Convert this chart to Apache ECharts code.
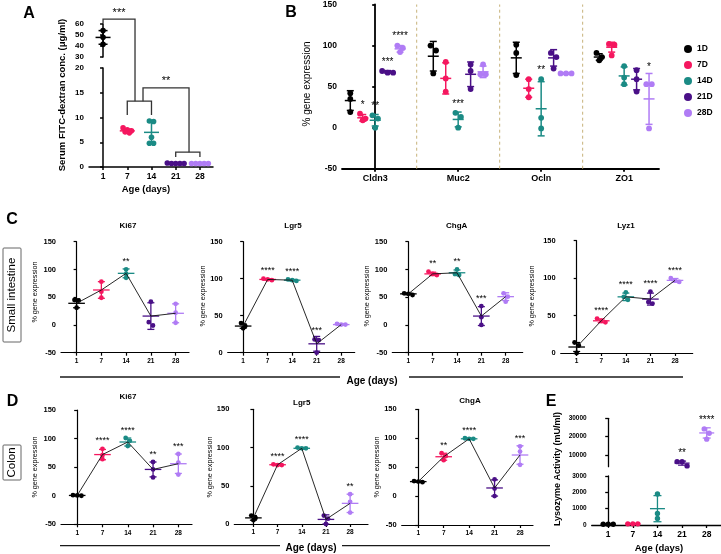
<!DOCTYPE html>
<html><head><meta charset="utf-8">
<script src="https://cdn.jsdelivr.net/npm/echarts@6/dist/echarts.min.js"></script>
<style>html,body{margin:0;padding:0;background:#fff}#c{width:721px;height:554px}</style>
</head><body><div id="c"></div>
<script>
// ================= DATA =================
const dayLabels = ['1', '7', '14', '21', '28'];
const legendNames = ['1D', '7D', '14D', '21D', '28D'];
const dayColors = ['#000000', '#f5175f', '#1b8b85', '#4a1087', '#b07cf5'];

// Panel A: serum FITC-dextran (ug/ml)
const aPts = [[54, 48, 41.5], [7.9, 7.5, 7.3, 7.1, 6.9], [9.3, 9.2, 6.0, 4.8, 4.8], [0.8, 0.7, 0.7, 0.7, 0.7], [0.7, 0.7, 0.7, 0.7, 0.7]];
const aMean = [47.8, 7.3, 7.0, 0.7, 0.7];
const aSD = [6.2, 0.35, 2.2, 0.1, 0.1];
// significance brackets: [part(0 upper,1 lower), x (category index), y value]
const aBrackets = [
  { label: '***', path: [[0, 0, 60.5], [0, 0, 64.5], [0, 1.32, 64.5], [1, 1.32, 13.3]] },
  { label: '', path: [[1, 1, 10.5], [1, 1, 13.3], [1, 2, 13.3], [1, 2, 10.5]] },
  { label: '**', path: [[1, 1.65, 13.3], [1, 1.65, 16], [1, 3.55, 16], [1, 3.55, 3.0]] },
  { label: '', path: [[1, 3, 2.0], [1, 3, 3.0], [1, 4, 3.0], [1, 4, 2.0]] }
];

// Panel B: % gene expression, per day across genes
const bGenes = ['Cldn3', 'Muc2', 'Ocln', 'ZO1'];
const bPts1D = [[42, 35, 19], [100, 94, 66], [101, 91, 64], [91, 86, 82]];
const bPts7D = [[17, 11, 9], [80, 60, 44], [59, 47, 37], [102, 101, 88]];
const bPts14D = [[15, 11, 0], [18, 13, 0], [59, 12, -1], [75, 61, 53]];
const bPts21D = [[69, 67, 67], [77, 69, 47], [91, 86, 72], [70, 59, 44]];
const bPts28D = [[100, 92, 97], [77, 65, 65], [66, 66, 66], [53, 53, -1]];
const bMean1D = [33, 87, 85, 86], bSD1D = [12, 18, 19, 4];
const bMean7D = [12, 60, 48, 98], bSD7D = [4, 19, 11, 6];
const bMean14D = [9, 10, 23, 63], bSD14D = [7, 9, 33, 11];
const bMean21D = [68, 65, 85, 59], bSD21D = [1.5, 15, 10, 13];
const bMean28D = [96, 68, 66, 35], bSD28D = [4, 7, 1, 31];
const bStars1D = ['', '', '', ''];
const bStars7D = ['*', '', '', ''];
const bStars14D = ['**', '***', '**', ''];
const bStars21D = ['***', '', '', ''];
const bStars28D = ['****', '', '', '*'];

// Panel C: small intestine
const cKi67Pts = [[45, 44, 31], [78, 60, 49], [100, 92, 85], [42, 5, -1], [38, 22, 4]];
const cKi67Mean = [39, 63, 93, 16, 21], cKi67SD = [8, 15, 8, 24, 17];
const cKi67Stars = ['', '', '**', '', ''];
const cLgr5Pts = [[40, 36, 33], [100, 99, 98], [99, 98, 97], [18, 17, 0], [39, 38, 38]];
const cLgr5Mean = [36, 99, 98, 12, 38], cLgr5SD = [3, 1, 1, 10, 1];
const cLgr5Stars = ['', '****', '****', '***', ''];
const cChgAPts = [[57, 56, 54], [96, 92, 90], [100, 92, 90], [34, 14, 0], [57, 51, 42]];
const cChgAMean = [56, 92, 94, 16, 51], cChgASD = [1.5, 3, 5, 17, 7];
const cChgAStars = ['', '**', '**', '***', ''];
const cLyz1Pts = [[14, 10, 0], [46, 43, 41], [81, 75, 71], [82, 68, 66], [100, 97, 95]];
const cLyz1Mean = [8, 43, 75, 72, 97], cLyz1SD = [6, 2.5, 5, 8, 2.5];
const cLyz1Stars = ['', '****', '****', '****', '****'];

// Panel D: colon
const dKi67Pts = [[1, 0.5, 0], [82, 71, 64], [101, 96, 87], [59, 46, 32], [73, 58, 37]];
const dKi67Mean = [0.5, 72, 94, 46, 56], dKi67SD = [0.5, 9, 7, 13, 17];
const dKi67Stars = ['', '****', '****', '**', '***'];
const dLgr5Pts = [[11, 8, 5], [78, 77, 77], [100, 99, 99], [11, 7, 0], [39, 29, 15]];
const dLgr5Mean = [8, 77.5, 99, 6, 27], dLgr5SD = [3, 1, 1, 6, 12];
const dLgr5Stars = ['', '****', '****', '', '**'];
const dChgAPts = [[26, 25, 24], [74, 69, 62], [100, 99, 99], [29, 13, 0], [86, 77, 54]];
const dChgAMean = [25, 68, 99, 14, 71], dChgASD = [1, 6, 1, 14, 16];
const dChgAStars = ['', '**', '****', '', '***'];

// Panel E: lysozyme activity (mU/ml)
const ePts = [[50, 50, 50], [70, 70, 70], [1900, 700, 400], [6300, 6300, 4000], [24200, 21800, 18600]];
const eMean = [50, 70, 1000, 5500, 22000];
const eSD = [0, 0, 800, 1100, 2800];
const eStars = ['', '', '', '**', '****'];
const eUpperTicks = [10000, 20000, 30000];

// ================= CHART =================
const FONT = '"Liberation Sans", Arial, Helvetica, sans-serif';
const chart = echarts.init(document.getElementById('c'), null, { renderer: 'canvas', width: 721, height: 554 });

function swarm(ys, d) {
  const idx = ys.map((y, i) => i).sort((a, b) => ys[a] - ys[b]);
  const offs = new Array(ys.length).fill(0);
  if (!idx.length) return offs;
  let row = [idx[0]];
  const flush = () => { const n = row.length; row.forEach((i, k) => { offs[i] = (k - (n - 1) / 2) * d; }); };
  for (let k = 1; k < idx.length; k++) {
    if (ys[idx[k]] - ys[row[0]] < d * 0.9) row.push(idx[k]); else { flush(); row = [idx[k]]; }
  }
  flush();
  return offs;
}

function groupSeries(name, xi, yi, groups, st, color) {
  return {
    type: 'custom', name, xAxisIndex: xi, yAxisIndex: yi, clip: false, z: 5,
    itemStyle: { color: color || '#000' },
    data: groups.map(g => [g.x, g.mean, g.sd]),
    encode: { x: 0, y: 1 },
    renderItem: (params, api) => {
      const g = groups[params.dataIndex];
      const c = api.coord([g.x, g.mean]);
      const t = api.coord([g.x, g.mean + g.sd]);
      const b = api.coord([g.x, g.mean - g.sd]);
      const ys = g.pts.map(v => api.coord([g.x, v])[1]);
      const offs = swarm(ys, st.spread);
      const ch = [];
      ys.forEach((y, i) => ch.push({ type: 'circle', shape: { cx: c[0] + offs[i], cy: y, r: st.r }, style: { fill: g.color } }));
      const ls = { stroke: g.color, lineWidth: st.lw };
      ch.push({ type: 'line', shape: { x1: c[0], y1: t[1], x2: c[0], y2: b[1] }, style: ls });
      ch.push({ type: 'line', shape: { x1: c[0] - st.cap, y1: t[1], x2: c[0] + st.cap, y2: t[1] }, style: ls });
      ch.push({ type: 'line', shape: { x1: c[0] - st.cap, y1: b[1], x2: c[0] + st.cap, y2: b[1] }, style: ls });
      ch.push({ type: 'line', shape: { x1: c[0] - st.meanW, y1: c[1], x2: c[0] + st.meanW, y2: c[1] }, style: ls });
      if (g.star) {
        const top = Math.min(t[1], ...ys.map(y => y - st.r));
        ch.push({ type: 'text', x: c[0], y: top - st.starGap, style: { text: g.star, fontSize: st.starSize, fontFamily: FONT, fill: '#000', align: 'center', verticalAlign: 'bottom' } });
      }
      return { type: 'group', children: ch };
    }
  };
}

const plainNum = v => String(v);
function yAx(grid, min, max, interval, fs, lw, extra) {
  return Object.assign({
    type: 'value', gridIndex: grid, min, max, interval,
    axisLine: { show: true, lineStyle: { color: '#000', width: lw } },
    axisTick: { show: true, length: 3, lineStyle: { color: '#000', width: lw } },
    axisLabel: { fontSize: fs, fontWeight: 'bold', color: '#000', fontFamily: FONT, margin: 5, formatter: plainNum },
    splitLine: { show: false }
  }, extra || {});
}
function xAx(grid, min, max, labels, fs, lw, show) {
  const vals = labels.map((_, i) => i);
  return {
    type: 'value', gridIndex: grid, min, max,
    axisLine: { show, onZero: false, lineStyle: { color: '#000', width: lw } },
    axisTick: { show, length: 3, customValues: vals, lineStyle: { color: '#000', width: lw } },
    axisLabel: { show, customValues: vals, formatter: v => labels[Math.round(v)], fontSize: fs, fontWeight: 'bold', color: '#000', fontFamily: FONT, margin: 5 },
    splitLine: { show: false }
  };
}

const grids = [], xAxes = [], yAxes = [], series = [];
function addGrid(l, t, w, h) { grids.push({ left: l, top: t, width: w, height: h, containLabel: false }); return grids.length - 1; }

// ---- Panel A ----
const stA = { r: 2.8, spread: 4.2, lw: 1.5, cap: 4.5, meanW: 7.5, starSize: 11, starGap: 1 };
const gA0 = addGrid(89, 24, 124, 33);
xAxes.push(xAx(gA0, -0.58, 4.54, dayLabels, 8, 1.5, false));
yAxes.push(yAx(gA0, 30, 60, 10, 8, 1.5));
const gA1 = addGrid(89, 68, 124, 99);
xAxes.push(xAx(gA1, -0.58, 4.54, dayLabels, 8.5, 1.5, true));
yAxes.push(yAx(gA1, 0, 20, 5, 8, 1.5));
series.push(groupSeries('A-upper', gA0, gA0, [0].map(i => ({ x: i, pts: aPts[i], mean: aMean[i], sd: aSD[i], color: dayColors[i] })), stA));
series.push(groupSeries('A-lower', gA1, gA1, [1, 2, 3, 4].map(i => ({ x: i, pts: aPts[i], mean: aMean[i], sd: aSD[i], color: dayColors[i] })), stA));

// ---- Panel B ----
const gB = addGrid(342, 4, 317, 164.7);
xAxes.push(xAx(gB, -0.4, 3.42, bGenes, 9, 1.8, true));
yAxes.push(yAx(gB, -50, 150, 50, 8.5, 1.8));
const stB = { r: 2.9, spread: 5.5, lw: 1.5, cap: 3.5, meanW: 5.5, starSize: 10, starGap: 1 };
const bPts = [bPts1D, bPts7D, bPts14D, bPts21D, bPts28D];
const bMean = [bMean1D, bMean7D, bMean14D, bMean21D, bMean28D];
const bSD = [bSD1D, bSD7D, bSD14D, bSD21D, bSD28D];
const bStars = [bStars1D, bStars7D, bStars14D, bStars21D, bStars28D];
[0.5, 1.5, 2.5].forEach((sx, k) => series.push({
  type: 'line', name: 'sep' + k, xAxisIndex: gB, yAxisIndex: gB, symbol: 'none', silent: true, z: 1,
  data: [[sx, -50], [sx, 150]], lineStyle: { color: '#c7b27a', width: 1, type: [3, 3] }
}));
for (let d = 0; d < 5; d++) {
  series.push(groupSeries(legendNames[d], gB, gB, bGenes.map((_, g) => ({
    x: g + (d - 2) * 0.15, pts: bPts[d][g], mean: bMean[d][g], sd: bSD[d][g], color: dayColors[d], star: bStars[d][g]
  })), stB, dayColors[d]));
}

// ---- Panels C & D ----
const stC = { r: 2.4, spread: 4.2, lw: 1.3, cap: 3.5, meanW: 8.3, starSize: 9, starGap: 1 };
const smallPanels = [
  { g: [61, 241.7, 128, 111], x: [-0.63, 4.54], y: [-50, 150], pts: cKi67Pts, mean: cKi67Mean, sd: cKi67SD, stars: cKi67Stars },
  { g: [227.7, 241.7, 127, 111], x: [-0.63, 4.55], y: [0, 150], pts: cLgr5Pts, mean: cLgr5Mean, sd: cLgr5SD, stars: cLgr5Stars },
  { g: [392.3, 241.7, 130.4, 111], x: [-0.66, 4.7], y: [-50, 150], pts: cChgAPts, mean: cChgAMean, sd: cChgASD, stars: cChgAStars },
  { g: [560.7, 240.7, 132, 112.3], x: [-0.65, 4.72], y: [0, 150], pts: cLyz1Pts, mean: cLyz1Mean, sd: cLyz1SD, stars: cLyz1Stars },
  { g: [61, 410, 131, 114.3], x: [-0.64, 4.54], y: [-50, 150], pts: dKi67Pts, mean: dKi67Mean, sd: dKi67SD, stars: dKi67Stars },
  { g: [234.3, 409.3, 133.7, 114.7], x: [-0.79, 4.74], y: [0, 150], pts: dLgr5Pts, mean: dLgr5Mean, sd: dLgr5SD, stars: dLgr5Stars },
  { g: [401.7, 409.3, 131.3, 115.7], x: [-0.65, 4.51], y: [-50, 150], pts: dChgAPts, mean: dChgAMean, sd: dChgASD, stars: dChgAStars }
];
smallPanels.forEach((p, k) => {
  const gi = addGrid(p.g[0], p.g[1], p.g[2], p.g[3]);
  xAxes.push(xAx(gi, p.x[0], p.x[1], dayLabels, 6.5, 1.2, true));
  yAxes.push(yAx(gi, p.y[0], p.y[1], 50, 7.5, 1.2));
  series.push({
    type: 'line', name: 'meanline' + k, xAxisIndex: gi, yAxisIndex: gi, symbol: 'none', silent: true, z: 6,
    data: p.mean.map((m, i) => [i, m]), lineStyle: { color: '#111', width: 0.9 }
  });
  series.push(groupSeries('panel' + k, gi, gi, p.pts.map((pts, i) => ({
    x: i, pts, mean: p.mean[i], sd: p.sd[i], color: dayColors[i], star: p.stars[i]
  })), stC));
});

// ---- Panel E ----
const stE = { r: 2.7, spread: 5, lw: 1.3, cap: 4, meanW: 7.5, starSize: 10, starGap: 1 };
const gE0 = addGrid(591.7, 418.3, 129.3, 48.4);
xAxes.push(xAx(gE0, -0.67, 4.58, dayLabels, 8, 1.3, false));
yAxes.push(yAx(gE0, 3550, 30000, null, 6.5, 1.3, {
  axisTick: { show: true, length: 3, customValues: eUpperTicks, lineStyle: { color: '#000', width: 1.3 } },
  axisLabel: { customValues: eUpperTicks, fontSize: 6.5, fontWeight: 'bold', color: '#000', fontFamily: FONT, margin: 5, formatter: plainNum }
}));
const gE1 = addGrid(591.7, 476, 129.3, 49);
xAxes.push(xAx(gE1, -0.67, 4.58, dayLabels, 8.5, 1.3, true));
yAxes.push(yAx(gE1, 0, 3000, 1000, 6.5, 1.3));
series.push(groupSeries('E-upper', gE0, gE0, [3, 4].map(i => ({ x: i, pts: ePts[i], mean: eMean[i], sd: eSD[i], color: dayColors[i], star: eStars[i] })), stE));
series.push(groupSeries('E-lower', gE1, gE1, [0, 1, 2].map(i => ({ x: i, pts: ePts[i], mean: eMean[i], sd: eSD[i], color: dayColors[i], star: eStars[i] })), stE));

chart.setOption({
  animation: false,
  backgroundColor: '#fff',
  grid: grids, xAxis: xAxes, yAxis: yAxes, series,
  legend: {
    data: legendNames, orient: 'vertical', left: 679, top: 39, icon: 'circle',
    itemWidth: 8, itemHeight: 8, itemGap: 6, selectedMode: false,
    textStyle: { fontSize: 8.5, fontWeight: 'bold', color: '#000', fontFamily: FONT, lineHeight: 10 }
  }
});

// ---- Annotations (text, boxes, lines, brackets) ----
function txt(t, x, y, size, weight, rot) {
  return { type: 'text', x, y, rotation: rot || 0, z: 10, style: { text: t, fontSize: size, fontWeight: weight || 'normal', fontFamily: FONT, fill: '#000', align: 'center', verticalAlign: 'middle' } };
}
function ln(x1, y1, x2, y2, w) { return { type: 'line', z: 10, shape: { x1, y1, x2, y2 }, style: { stroke: '#1a1a1a', lineWidth: w || 1.3 } }; }
const R = Math.PI / 2;
const els = [
  txt('A', 29, 14, 16, 'bold'), txt('B', 291, 13, 16, 'bold'), txt('C', 12, 220, 16, 'bold'),
  txt('D', 12.5, 402, 16, 'bold'), txt('E', 551, 402, 16, 'bold'),
  txt('Serum FITC-dextran conc. (\u03bcg/ml)', 62, 95, 9.5, 'bold', R),
  txt('Age (days)', 146, 189, 9.5, 'bold'),
  txt('% gene expression', 307, 84, 10, 'normal', R),
  txt('Ki67', 128, 226, 8, 'bold'), txt('Lgr5', 293, 226, 8, 'bold'), txt('ChgA', 456.7, 226, 8, 'bold'), txt('Lyz1', 626, 226, 8, 'bold'),
  txt('Ki67', 128, 396.7, 8, 'bold'), txt('Lgr5', 301.7, 402.3, 8, 'bold'), txt('ChgA', 470, 400.7, 8, 'bold'),
  txt('% gene expression', 35, 292, 7.2, 'normal', R), txt('% gene expression', 203.3, 296, 7.2, 'normal', R),
  txt('% gene expression', 367.3, 296, 7.2, 'normal', R), txt('% gene expression', 531.7, 296, 7.2, 'normal', R),
  txt('% gene expression', 35, 467, 7.2, 'normal', R), txt('% gene expression', 210, 467, 7.2, 'normal', R),
  txt('% gene expression', 377.3, 467, 7.2, 'normal', R),
  { type: 'rect', z: 10, shape: { x: 3, y: 248, width: 18, height: 94, r: 1 }, style: { fill: 'none', stroke: '#666', lineWidth: 1 } },
  txt('Small intestine', 12, 295, 11.5, 'normal', R),
  { type: 'rect', z: 10, shape: { x: 3, y: 445, width: 18, height: 35, r: 1 }, style: { fill: 'none', stroke: '#666', lineWidth: 1 } },
  txt('Colon', 12, 462.5, 11.5, 'normal', R),
  ln(60, 377, 340, 377), ln(409, 377, 683, 377), txt('Age (days)', 372, 381, 10, 'bold'),
  ln(60, 545.7, 280, 545.7), ln(342, 545.7, 550, 545.7), txt('Age (days)', 311, 548, 10, 'bold'),
  txt('Lysozyme Activity (mU/ml)', 557.3, 469, 9, 'bold', R),
  txt('Age (days)', 659, 548, 9.5, 'bold')
];
const aParts = [gA0, gA1];
aBrackets.forEach(br => {
  const pts = br.path.map(p => chart.convertToPixel({ xAxisIndex: aParts[p[0]], yAxisIndex: aParts[p[0]] }, [p[1], p[2]]));
  els.push({ type: 'polyline', z: 10, shape: { points: pts }, style: { stroke: '#333', lineWidth: 1.3, fill: null } });
  if (br.label) {
    const midX = (pts[1][0] + pts[2][0]) / 2;
    els.push({ type: 'text', z: 10, x: midX, y: pts[1][1] - 1, style: { text: br.label, fontSize: 11, fontFamily: FONT, fill: '#000', align: 'center', verticalAlign: 'bottom' } });
  }
});
chart.setOption({ graphic: { elements: els } });
</script>
</body></html>
